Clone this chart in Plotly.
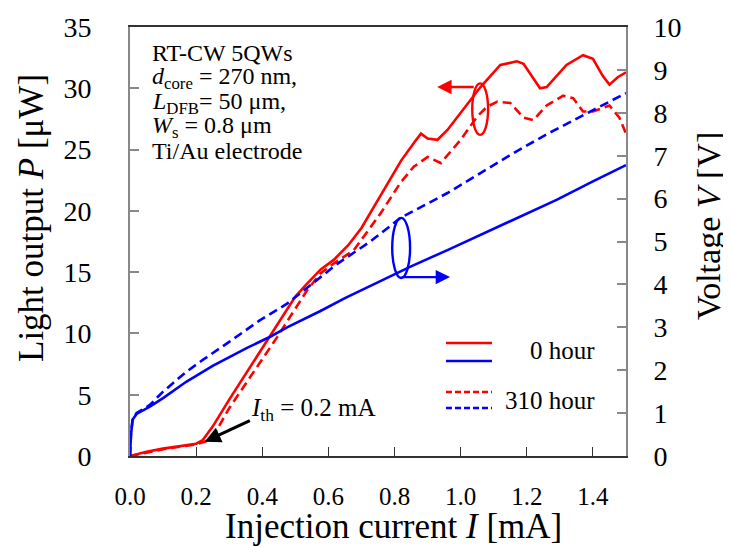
import plotly.graph_objects as go

# ---- data ----
current_p0 = [0.00, 0.02, 0.05, 0.10, 0.15, 0.20, 0.22, 0.25, 0.30, 0.35, 0.40, 0.45, 0.50, 0.53,
              0.576, 0.616, 0.66, 0.70, 0.73, 0.76, 0.82, 0.86, 0.88, 0.90, 0.93, 0.96, 1.00, 1.06,
              1.12, 1.17, 1.19, 1.24, 1.26, 1.32, 1.37, 1.40, 1.43, 1.45, 1.475, 1.50]
power_0h = [0.0, 0.15, 0.35, 0.6, 0.8, 1.0, 1.3, 2.4, 4.6, 6.7, 8.7, 10.9, 13.0, 13.9,
            15.2, 16.0, 17.2, 18.6, 20.0, 21.4, 24.1, 25.6, 26.3, 25.9, 25.8, 26.6, 28.0, 30.1,
            31.9, 32.2, 32.0, 30.0, 30.1, 31.9, 32.7, 32.4, 31.0, 30.3, 30.9, 31.3]

current_p310 = [0.00, 0.05, 0.10, 0.15, 0.20, 0.23, 0.26, 0.30, 0.35, 0.40, 0.445, 0.49, 0.535,
                0.576, 0.616, 0.677, 0.727, 0.758, 0.818, 0.858, 0.90, 0.94, 1.00, 1.05, 1.08,
                1.11, 1.15, 1.19, 1.22, 1.26, 1.31, 1.34, 1.37, 1.40, 1.45, 1.48, 1.50]
power_310h = [0.0, 0.3, 0.55, 0.75, 0.95, 1.2, 2.0, 3.9, 5.9, 7.8, 9.7, 11.6, 13.5,
              14.9, 15.7, 16.8, 18.6, 19.8, 22.3, 23.6, 24.4, 23.9, 25.8, 27.7, 28.5,
              28.9, 28.8, 27.6, 27.4, 28.6, 29.4, 29.2, 28.1, 28.1, 28.6, 27.6, 26.3]

current_v0 = [0.000, 0.003, 0.008, 0.02, 0.06, 0.10, 0.17, 0.25, 0.354, 0.424, 0.475, 0.576,
              0.65, 0.727, 0.758, 0.85, 0.96, 1.06, 1.16, 1.29, 1.40, 1.50]
voltage_0h = [0.0, 0.5, 0.85, 0.98, 1.15, 1.35, 1.73, 2.1, 2.52, 2.78, 3.0, 3.38,
              3.68, 3.97, 4.08, 4.42, 4.80, 5.15, 5.50, 5.97, 6.40, 6.78]

current_v310 = [0.000, 0.003, 0.008, 0.02, 0.06, 0.10, 0.17, 0.22, 0.30, 0.39, 0.475, 0.555,
                0.627, 0.727, 0.818, 0.96, 1.06, 1.16, 1.26, 1.36, 1.50]
voltage_310h = [0.0, 0.5, 0.88, 1.0, 1.19, 1.5, 1.96, 2.24, 2.66, 3.15, 3.55, 4.05,
                4.48, 5.0, 5.55, 6.13, 6.6, 7.06, 7.5, 7.90, 8.46]

x_ticks = [0.0, 0.2, 0.4, 0.6, 0.8, 1.0, 1.2, 1.4]
x_tick_labels = ["0.0", "0.2", "0.4", "0.6", "0.8", "1.0", "1.2", "1.4"]
p_ticks = [0, 5, 10, 15, 20, 25, 30, 35]
v_ticks = [0, 1, 2, 3, 4, 5, 6, 7, 8, 9, 10]

legend_labels = ["0 hour", "310 hour"]
info_lines = ["RT-CW 5QWs",
              "<i>d</i><sub>core</sub> = 270 nm,",
              "<i>L</i><sub>DFB</sub>= 50 μm,",
              "<i>W</i><sub>s</sub> = 0.8 μm",
              "Ti/Au electrode"]
ith_label = "<i>I</i><sub>th</sub> = 0.2 mA"

RED = "#ff0000"
BLUE = "#0000ff"
FONT = "Liberation Serif"
DASH = "9px,5px"

fig = go.Figure()
fig.add_trace(go.Scatter(x=current_p0, y=power_0h, mode="lines",
                         line=dict(color=RED, width=2.6), yaxis="y"))
fig.add_trace(go.Scatter(x=current_p310, y=power_310h, mode="lines",
                         line=dict(color=RED, width=2.6, dash=DASH), yaxis="y"))
fig.add_trace(go.Scatter(x=current_v0, y=voltage_0h, mode="lines",
                         line=dict(color=BLUE, width=2.6), yaxis="y2"))
fig.add_trace(go.Scatter(x=current_v310, y=voltage_310h, mode="lines",
                         line=dict(color=BLUE, width=2.6, dash=DASH), yaxis="y2"))

# page has an 8px body margin; figure is sized to fit the 731x547 window
OFF = 8
W, H = 723, 539
L, R, T, B = 122, 105, 19, 91
PW, PH = W - L - R, H - T - B
PLOT_LEFT = OFF + L          # page px of plot left edge
PLOT_BOTTOM = OFF + T + PH   # page px of plot bottom edge


def px(xp):
    return (xp - PLOT_LEFT) / PW


def py(yp):
    return (PLOT_BOTTOM - yp) / PH


def txt(text, x, y, size, xanchor="center", angle=0):
    return dict(text=text, x=px(x), y=py(y), xref="paper", yref="paper",
                xanchor=xanchor, yanchor="middle", showarrow=False, textangle=angle,
                font=dict(family=FONT, size=size, color="black"))


annotations = []
# axis titles
annotations.append(txt("Injection current <i>I</i> [mA]", 393, 526, 35))
annotations.append(txt("Light output <i>P</i> [μW]", 31, 218, 35, angle=-90))
annotations.append(txt("Voltage <i>V</i> [V]", 709, 226, 34, angle=-90))
# info text block
info_y = [53, 78, 103, 127, 151]
for t, yy in zip(info_lines, info_y):
    annotations.append(txt(t, 150, yy, 24, xanchor="left"))
# legend texts
annotations.append(txt(legend_labels[0], 597, 350, 25, xanchor="right"))
annotations.append(txt(legend_labels[1], 597, 400, 25, xanchor="right"))
# threshold label and arrow
annotations.append(txt(ith_label, 249, 409, 25, xanchor="left"))
annotations.append(dict(x=0.226, y=1.17, ax=0.367, ay=2.94, xref="x", yref="y",
                        axref="x", ayref="y", text="", showarrow=True,
                        arrowhead=2, arrowsize=1.0, arrowwidth=3.2, arrowcolor="black"))
# red arrow -> left axis
annotations.append(dict(x=0.929, y=30.1, ax=1.044, ay=30.1, xref="x", yref="y",
                        axref="x", ayref="y", text="", showarrow=True,
                        arrowhead=2, arrowsize=1.2, arrowwidth=2.4, arrowcolor=RED))
# blue arrow -> right axis
annotations.append(dict(x=0.968, y=4.17, ax=0.817, ay=4.17, xref="x", yref="y2",
                        axref="x", ayref="y2", text="", showarrow=True,
                        arrowhead=2, arrowsize=1.2, arrowwidth=2.4, arrowcolor=BLUE))

shapes = [
    dict(type="circle", xref="x", yref="y", x0=1.035, x1=1.083, y0=26.2, y1=30.4,
         line=dict(color=RED, width=2.4)),
    dict(type="circle", xref="x", yref="y2", x0=0.793, x1=0.847, y0=4.15, y1=5.55,
         line=dict(color=BLUE, width=2.4)),
    # legend samples
    dict(type="line", xref="paper", yref="paper", x0=px(446), x1=px(492), y0=py(343), y1=py(343),
         line=dict(color=RED, width=2.6)),
    dict(type="line", xref="paper", yref="paper", x0=px(446), x1=px(492), y0=py(361), y1=py(361),
         line=dict(color=BLUE, width=2.6)),
    dict(type="line", xref="paper", yref="paper", x0=px(446), x1=px(492), y0=py(392), y1=py(392),
         line=dict(color=RED, width=2.6, dash="6px,3px")),
    dict(type="line", xref="paper", yref="paper", x0=px(446), x1=px(492), y0=py(408), y1=py(408),
         line=dict(color=BLUE, width=2.6, dash="6px,3px")),
]

fig.update_layout(
    width=W, height=H,
    margin=dict(l=L, r=R, t=T, b=B, pad=0, autoexpand=False),
    paper_bgcolor="white", plot_bgcolor="white",
    showlegend=False,
    font=dict(family=FONT, color="black"),
    xaxis=dict(range=[0, 1.5], tickvals=x_ticks, ticktext=x_tick_labels,
               ticks="inside", ticklen=9, tickcolor="#333", tickwidth=1.2,
               showline=True, linecolor="#333", linewidth=1.8, mirror=True,
               showgrid=False, zeroline=False,
               tickfont=dict(family=FONT, size=25, color="black"),
               ticklabelstandoff=17),
    yaxis=dict(range=[0, 35], tickvals=p_ticks,
               ticks="inside", ticklen=9, tickcolor="#888", tickwidth=1.5,
               showline=True, linecolor="#888", linewidth=1.8,
               showgrid=False, zeroline=False,
               tickfont=dict(family=FONT, size=28, color="black"),
               ticklabelstandoff=31),
    yaxis2=dict(range=[0, 10], tickvals=v_ticks, overlaying="y", side="right",
                ticks="inside", ticklen=9, tickcolor="#888", tickwidth=1.5,
                showline=True, linecolor="#888", linewidth=1.8,
                showgrid=False, zeroline=False,
                tickfont=dict(family=FONT, size=28, color="black"),
                ticklabelstandoff=20),
    annotations=annotations,
    shapes=shapes,
)

fig.write_html("out.html")
